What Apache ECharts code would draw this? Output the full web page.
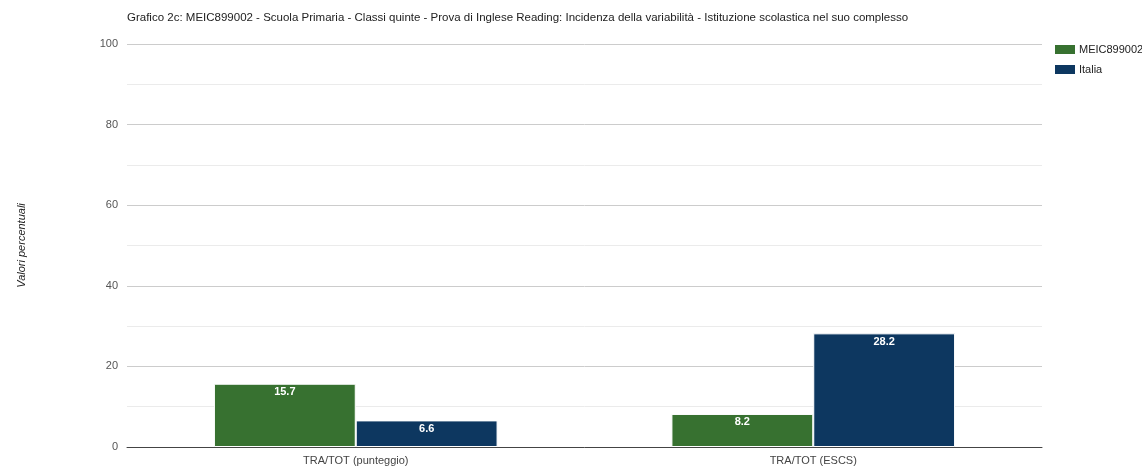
<!DOCTYPE html>
<html><head><meta charset="utf-8">
<script src="https://cdn.jsdelivr.net/npm/echarts@6/dist/echarts.min.js"></script>
<style>html,body{margin:0;padding:0;background:#fff}#c{width:1142px;height:466px}</style>
</head><body><div id="c"></div>
<script>
const categories = ['TRA/TOT (punteggio)', 'TRA/TOT (ESCS)'];
const seriesNames = ['MEIC899002', 'Italia'];
const schoolValues = [15.7, 8.2];
const italyValues = [6.6, 28.2];
const colors = ['#377130', '#0d3760'];
const titleText = 'Grafico 2c: MEIC899002 - Scuola Primaria - Classi quinte - Prova di Inglese Reading: Incidenza della variabilità - Istituzione scolastica nel suo complesso';
const yAxisName = 'Valori percentuali';

const chart = echarts.init(document.getElementById('c'));
const font = 'Arial, "Liberation Sans", sans-serif';
const mkSeries = (name, data, color) => ({
  name, type: 'bar', data,
  barGap: '0%', barCategoryGap: '38%',
  itemStyle: { color, borderColor: '#ffffff', borderWidth: 1 },
  label: { show: true, position: 'insideTop', color: '#fff', fontWeight: 'bold', fontSize: 11, fontFamily: font, distance: 3 }
});
chart.setOption({
  animation: false,
  textStyle: { fontFamily: font },
  title: { text: titleText, left: 122, top: 7, textStyle: { fontSize: 11.5, fontWeight: 'normal', color: '#222', fontFamily: font } },
  legend: { orient: 'vertical', left: 1048, top: 38, itemWidth: 22, itemHeight: 11, itemGap: 7, icon: 'rect',
    textStyle: { fontSize: 11, color: '#222', fontFamily: font, padding: [0, 0, 0, -2] }, data: seriesNames },
  grid: { left: 127, right: 100, top: 44, bottom: 19, containLabel: false },
  xAxis: { type: 'category', data: categories,
    axisLine: { lineStyle: { color: '#444', width: 1 } }, axisTick: { show: false },
    axisLabel: { color: '#444', fontSize: 11, margin: 8, fontFamily: font } },
  yAxis: { type: 'value', min: 0, max: 100, interval: 20,
    name: yAxisName, nameLocation: 'middle', nameGap: 100, nameRotate: 90,
    nameTextStyle: { fontStyle: 'italic', fontSize: 11, color: '#222', fontFamily: font },
    axisLine: { show: false }, axisTick: { show: false },
    axisLabel: { color: '#555', fontSize: 11, margin: 9, fontFamily: font },
    splitLine: { lineStyle: { color: '#cccccc' } },
    minorTick: { show: false, splitNumber: 2 },
    minorSplitLine: { show: true, lineStyle: { color: '#ebebeb' } } },
  series: [mkSeries(seriesNames[0], schoolValues, colors[0]), mkSeries(seriesNames[1], italyValues, colors[1])]
});
</script></body></html>
